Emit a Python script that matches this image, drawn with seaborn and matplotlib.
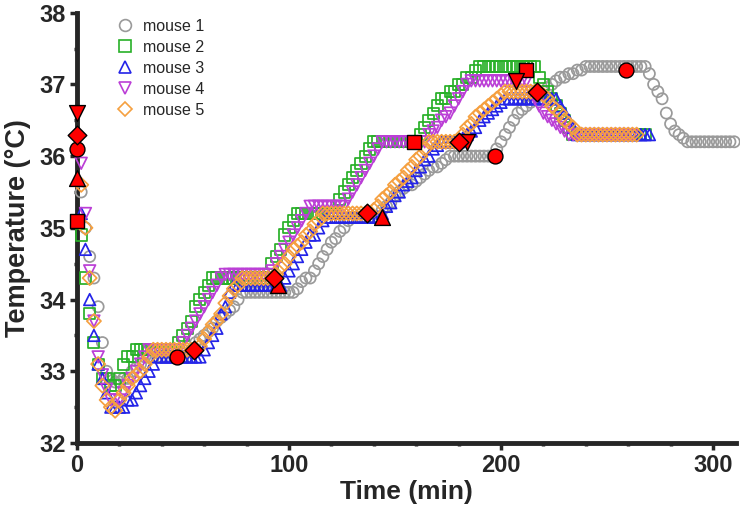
import numpy as np
import pandas as pd
import matplotlib
matplotlib.use("Agg")
import matplotlib.pyplot as plt
import seaborn as sns
from matplotlib.lines import Line2D
from matplotlib.ticker import MultipleLocator

# readings taken every 2 min, one row = 20 min
sample_step = 2

mouse1_temp = [
    36.1, 35.5, 35.0, 34.6, 34.3, 33.9, 33.4, 33.0, 32.9, 32.85,
    32.85, 32.9, 32.9, 33.0, 33.05, 33.1, 33.2, 33.2, 33.2, 33.2,
    33.2, 33.2, 33.2, 33.2, 33.2, 33.2, 33.2, 33.3, 33.4, 33.45,
    33.5, 33.55, 33.6, 33.7, 33.75, 33.8, 33.85, 33.9, 34.0, 34.1,
    34.1, 34.1, 34.1, 34.1, 34.1, 34.1, 34.1, 34.1, 34.1, 34.1,
    34.1, 34.1, 34.15, 34.25, 34.3, 34.3, 34.4, 34.5, 34.6, 34.7,
    34.8, 34.85, 34.95, 35.0, 35.1, 35.15, 35.15, 35.15, 35.15, 35.15,
    35.15, 35.15, 35.25, 35.3, 35.35, 35.45, 35.5, 35.55, 35.6, 35.6,
    35.65, 35.7, 35.75, 35.8, 35.85, 35.85, 35.9, 35.95, 36.0, 36.0,
    36.0, 36.0, 36.0, 36.0, 36.0, 36.0, 36.0, 36.0, 36.0, 36.1,
    36.2, 36.3, 36.4, 36.5, 36.6, 36.65, 36.7, 36.75, 36.8, 36.85,
    36.9, 36.95, 37.0, 37.05, 37.1, 37.1, 37.15, 37.15, 37.2, 37.2,
    37.25, 37.25, 37.25, 37.25, 37.25, 37.25, 37.25, 37.25, 37.25, 37.25,
    37.25, 37.25, 37.25, 37.25, 37.25, 37.15, 37.0, 36.9, 36.8, 36.6,
    36.45, 36.35, 36.3, 36.25, 36.2, 36.2, 36.2, 36.2, 36.2, 36.2,
    36.2, 36.2, 36.2, 36.2, 36.2, 36.2,
]

mouse2_temp = [
    35.1, 34.9, 34.3, 33.8, 33.4, 33.1, 32.9, 32.9, 32.8, 32.8,
    32.9, 33.1, 33.2, 33.2, 33.3, 33.3, 33.3, 33.3, 33.3, 33.3,
    33.3, 33.3, 33.3, 33.3, 33.4, 33.5, 33.6, 33.7, 33.9, 34.0,
    34.1, 34.2, 34.3, 34.3, 34.3, 34.3, 34.3, 34.3, 34.3, 34.3,
    34.3, 34.3, 34.3, 34.3, 34.3, 34.3, 34.5, 34.6, 34.7, 34.9,
    35.0, 35.1, 35.2, 35.2, 35.2, 35.2, 35.2, 35.2, 35.2, 35.2,
    35.2, 35.2, 35.4, 35.5, 35.6, 35.7, 35.8, 35.9, 36.0, 36.1,
    36.2, 36.2, 36.2, 36.2, 36.2, 36.2, 36.2, 36.2, 36.2, 36.2,
    36.2, 36.3, 36.4, 36.5, 36.6, 36.7, 36.8, 36.8, 36.9, 36.9,
    37.0, 37.0, 37.1, 37.1, 37.2, 37.25, 37.25, 37.25, 37.25, 37.25,
    37.25, 37.25, 37.25, 37.25, 37.25, 37.25, 37.25, 37.25, 37.25, 37.1,
    37.0, 36.9, 36.8, 36.7, 36.6, 36.5, 36.4, 36.3, 36.3, 36.3,
    36.3, 36.3, 36.3, 36.3, 36.3, 36.3, 36.3, 36.3, 36.3, 36.3,
    36.3, 36.3, 36.3, 36.3, 36.3,
]

mouse3_temp = [
    35.7, 35.2, 34.7, 34.0, 33.5, 33.1, 32.9, 32.7, 32.5, 32.5,
    32.5, 32.5, 32.6, 32.6, 32.7, 32.8, 32.9, 33.0, 33.1, 33.2,
    33.2, 33.2, 33.2, 33.2, 33.2, 33.2, 33.2, 33.2, 33.2, 33.2,
    33.3, 33.4, 33.5, 33.6, 33.8, 33.9, 34.1, 34.2, 34.2, 34.2,
    34.2, 34.2, 34.2, 34.2, 34.2, 34.2, 34.2, 34.2, 34.2, 34.3,
    34.4, 34.5, 34.6, 34.7, 34.8, 34.9, 34.9, 35.0, 35.1, 35.15,
    35.15, 35.15, 35.15, 35.15, 35.15, 35.15, 35.15, 35.15, 35.15, 35.15,
    35.15, 35.15, 35.2, 35.3, 35.35, 35.45, 35.5, 35.6, 35.65, 35.7,
    35.8, 35.85, 35.95, 36.0, 36.1, 36.15, 36.2, 36.2, 36.2, 36.2,
    36.2, 36.25, 36.3, 36.35, 36.4, 36.5, 36.55, 36.6, 36.65, 36.7,
    36.75, 36.8, 36.8, 36.8, 36.8, 36.8, 36.8, 36.8, 36.8, 36.8,
    36.8, 36.8, 36.8, 36.8, 36.7, 36.6, 36.5, 36.4, 36.3, 36.3,
    36.3, 36.3, 36.3, 36.3, 36.3, 36.3, 36.3, 36.3, 36.3, 36.3,
    36.3, 36.3, 36.3, 36.3, 36.3, 36.3,
]

mouse4_temp = [
    36.6, 35.9, 35.2, 34.4, 33.7, 33.2, 32.95, 32.75, 32.6, 32.6,
    32.6, 32.7, 32.8, 32.9, 33.0, 33.1, 33.2, 33.3, 33.3, 33.3,
    33.3, 33.3, 33.3, 33.3, 33.3, 33.4, 33.5, 33.6, 33.7, 33.8,
    33.9, 34.0, 34.1, 34.2, 34.3, 34.35, 34.35, 34.35, 34.35, 34.35,
    34.35, 34.35, 34.35, 34.35, 34.35, 34.35, 34.4, 34.5, 34.6, 34.7,
    34.8, 34.9, 35.0, 35.1, 35.2, 35.3, 35.3, 35.3, 35.3, 35.3,
    35.3, 35.3, 35.3, 35.3, 35.4, 35.5, 35.6, 35.7, 35.8, 35.9,
    36.0, 36.1, 36.2, 36.2, 36.2, 36.2, 36.2, 36.2, 36.2, 36.2,
    36.2, 36.2, 36.2, 36.3, 36.35, 36.4, 36.5, 36.55, 36.6, 36.7,
    36.8, 36.9, 37.0, 37.05, 37.05, 37.05, 37.05, 37.05, 37.05, 37.05,
    37.05, 37.05, 37.05, 37.05, 37.05, 37.05, 37.05, 36.9, 36.8, 36.7,
    36.6, 36.55, 36.5, 36.45, 36.4, 36.35, 36.3, 36.3, 36.3, 36.3,
    36.3, 36.3, 36.3, 36.3, 36.3, 36.3, 36.3, 36.3, 36.3, 36.3,
    36.3, 36.3,
]

mouse5_temp = [
    36.3, 35.6, 35.0, 34.3, 33.7, 33.1, 32.8, 32.6, 32.5, 32.45,
    32.6, 32.7, 32.8, 32.9, 32.95, 33.0, 33.1, 33.2, 33.3, 33.3,
    33.3, 33.3, 33.3, 33.3, 33.3, 33.3, 33.3, 33.3, 33.3, 33.35,
    33.45, 33.55, 33.65, 33.7, 33.8, 33.95, 34.05, 34.15, 34.2, 34.3,
    34.3, 34.3, 34.3, 34.3, 34.3, 34.3, 34.3, 34.35, 34.45, 34.5,
    34.6, 34.7, 34.75, 34.8, 34.9, 34.95, 35.05, 35.1, 35.2, 35.2,
    35.2, 35.2, 35.2, 35.2, 35.2, 35.2, 35.2, 35.2, 35.2, 35.2,
    35.25, 35.3, 35.4, 35.45, 35.5, 35.6, 35.65, 35.7, 35.8, 35.85,
    35.95, 36.0, 36.1, 36.2, 36.2, 36.2, 36.2, 36.2, 36.2, 36.2,
    36.2, 36.3, 36.4, 36.45, 36.55, 36.6, 36.65, 36.7, 36.75, 36.8,
    36.85, 36.9, 36.9, 36.9, 36.9, 36.9, 36.9, 36.9, 36.9, 36.9,
    36.85, 36.8, 36.7, 36.65, 36.6, 36.5, 36.45, 36.4, 36.3, 36.3,
    36.3, 36.3, 36.3, 36.3, 36.3, 36.3, 36.3, 36.3, 36.3, 36.3,
    36.3, 36.3, 36.3,
]

# highlighted (red) readings per mouse
mouse1_red_time = [0, 47, 197, 259]
mouse1_red_temp = [36.1, 33.2, 36.0, 37.2]
mouse2_red_time = [0, 159, 212]
mouse2_red_temp = [35.1, 36.2, 37.2]
mouse3_red_time = [0, 95, 144]
mouse3_red_temp = [35.7, 34.2, 35.15]
mouse4_red_time = [0, 184, 207]
mouse4_red_temp = [36.6, 36.2, 37.05]
mouse5_red_time = [0, 55, 93, 137, 180, 217]
mouse5_red_temp = [36.3, 33.3, 34.3, 35.2, 36.2, 36.9]

names = ["mouse 1", "mouse 2", "mouse 3", "mouse 4", "mouse 5"]
temps = [mouse1_temp, mouse2_temp, mouse3_temp, mouse4_temp, mouse5_temp]
red_times = [mouse1_red_time, mouse2_red_time, mouse3_red_time, mouse4_red_time, mouse5_red_time]
red_temps = [mouse1_red_temp, mouse2_red_temp, mouse3_red_temp, mouse4_red_temp, mouse5_red_temp]

colors = ["#9a9a9a", "#28b028", "#2424e8", "#bb3fd6", "#f5a040"]
markers = ["o", "s", "^", "v", "D"]
sizes = [64, 64, 70, 70, 52]
red_sizes = [115, 115, 130, 130, 90]

sns.set_style("ticks")
plt.rcParams['font.family'] = ['Liberation Sans', 'DejaVu Sans']

fig = plt.figure(figsize=(7.4, 5.08), dpi=100)
ax = fig.add_axes([0.104, 0.128, 0.891, 0.847])

for i in range(5):
    t = np.arange(len(temps[i])) * sample_step
    sns.scatterplot(x=t[1:], y=temps[i][1:], ax=ax, marker=markers[i], s=sizes[i],
                    facecolor="none", edgecolor=colors[i], linewidth=1.25,
                    clip_on=False, zorder=3 + i * 0.1)

for i in range(5):
    sns.scatterplot(x=red_times[i], y=red_temps[i], ax=ax, marker=markers[i], s=red_sizes[i],
                    color="#ff0000", edgecolor="black", linewidth=1.0,
                    clip_on=False, zorder=5)

ax.set_xlim(0, 311)
ax.set_ylim(32, 38)
ax.xaxis.set_major_locator(MultipleLocator(100))
ax.xaxis.set_minor_locator(MultipleLocator(20))
ax.yaxis.set_major_locator(MultipleLocator(1))
ax.yaxis.set_minor_locator(MultipleLocator(0.5))

sns.despine(ax=ax)
for side in ["left", "bottom"]:
    ax.spines[side].set_linewidth(3.5)
    ax.spines[side].set_zorder(2)
ax.tick_params(which="major", length=5, width=2.5, direction="out", pad=3,
               labelsize=17)
ax.tick_params(which="minor", length=2.5, width=2.5, direction="out")
for lab in ax.get_xticklabels() + ax.get_yticklabels():
    lab.set_fontweight("bold")

ax.set_xlabel("Time (min)", fontsize=19, fontweight="bold", labelpad=2)
ax.set_ylabel("Temperature (\u00b0C)", fontsize=19.5, fontweight="bold", labelpad=6)

handles = [Line2D([], [], linestyle="none", marker=m, markersize=8.5 if m != "D" else 7.5,
                  markerfacecolor="none", markeredgecolor=c, markeredgewidth=1.2)
           for m, c in zip(markers, colors)]
ax.legend(handles, names, loc="upper left", bbox_to_anchor=(0.143, 0.985),
          bbox_transform=fig.transFigure, frameon=False, fontsize=11.5,
          handlelength=1.0, handletextpad=0.6, labelspacing=0.38, borderpad=0.2)

fig.savefig("out.png", dpi=100)
